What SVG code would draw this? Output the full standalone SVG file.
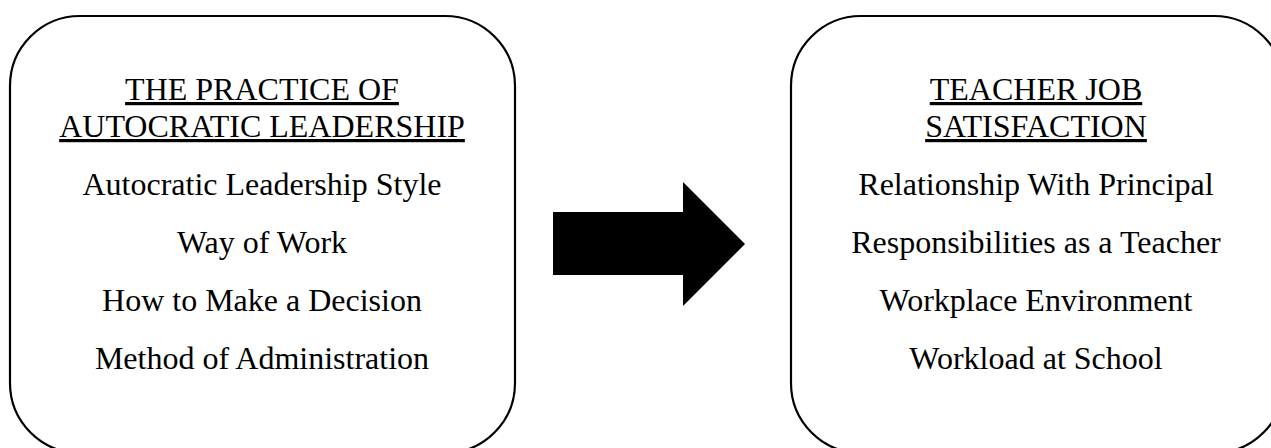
<svg xmlns="http://www.w3.org/2000/svg" width="1271" height="448" viewBox="0 0 1271 448">
<style>
.box{fill:#fff;stroke:#000;stroke-width:2.2}
text{font-family:"Liberation Serif","Times New Roman",serif;font-size:32px;fill:#000;text-anchor:middle}
.h{text-decoration:underline}
</style>
<rect width="1271" height="448" fill="#fff"/>
<g id="node-autocratic">
<rect class="box" x="10" y="16" width="505" height="437" rx="70" ry="70"/>
<text class="h" x="262" y="100">THE PRACTICE OF</text>
<text class="h" x="262" y="137">AUTOCRATIC LEADERSHIP</text>
<text x="262" y="195">Autocratic Leadership Style</text>
<text x="262" y="253">Way of Work</text>
<text x="262" y="311">How to Make a Decision</text>
<text x="262" y="369">Method of Administration</text>
</g>
<g id="node-satisfaction">
<rect class="box" x="791" y="16" width="493" height="437" rx="70" ry="70"/>
<text class="h" x="1036" y="100">TEACHER JOB</text>
<text class="h" x="1036" y="137">SATISFACTION</text>
<text x="1036" y="195">Relationship With Principal</text>
<text x="1036" y="253">Responsibilities as a Teacher</text>
<text x="1036" y="311">Workplace Environment</text>
<text x="1036" y="369">Workload at School</text>
</g>
<g id="connectors">
<polygon points="553,212 683,212 683,182 745,244 683,306 683,275 553,275" fill="#000"/>
</g>
</svg>
